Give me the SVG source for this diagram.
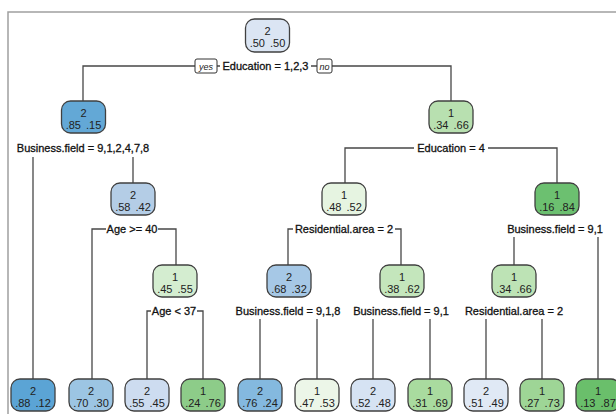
<svg xmlns="http://www.w3.org/2000/svg" width="616" height="414" viewBox="0 0 616 414">
<style>
.frame{fill:none;stroke:#a0a0a0;stroke-width:1.5}
.edge{fill:none;stroke:#474747;stroke-width:1.3}
.box{stroke:#404040;stroke-width:1.3}
.nt{font-family:"Liberation Sans",Arial,sans-serif;font-size:11px;fill:#222;text-anchor:middle;word-spacing:2px}
.lab{font-family:"Liberation Sans",Arial,sans-serif;font-size:11px;fill:#111;stroke:#111;stroke-width:0.3;text-anchor:middle}
.bg{fill:#fff}
.yn{fill:#fff;stroke:#333;stroke-width:1}
.ynt{font-family:"Liberation Sans",Arial,sans-serif;font-size:9px;font-style:italic;fill:#222;text-anchor:middle}
</style>
<rect width="616" height="414" fill="#fff"/>
<path class="frame" d="M8,414 V12 H616"/>
<g id="connectors">
<path class="edge" d="M83,101 V66 H451 V101"/>
<path class="edge" d="M345,183 V148 H557 V183"/>
<path class="edge" d="M33,157 V379"/>
<path class="edge" d="M133,157 V183"/>
<path class="edge" d="M176,265 V229 H92 V379"/>
<path class="edge" d="M288,265 V229 H401 V265"/>
<path class="edge" d="M514,237 V265"/>
<path class="edge" d="M598,237 V379"/>
<path class="edge" d="M147,379 V311 H203 V379"/>
<path class="edge" d="M260,319 V379"/>
<path class="edge" d="M317,319 V379"/>
<path class="edge" d="M373,319 V379"/>
<path class="edge" d="M430,319 V379"/>
<path class="edge" d="M486,319 V379"/>
<path class="edge" d="M542,319 V379"/>
</g>
<g id="labels">
<rect class="bg" x="220" y="59" width="91" height="14"/>
<text class="lab" x="265.5" y="70">Education = 1,2,3</text>
<rect class="yn" x="195" y="59" width="22" height="14" rx="2"/>
<text class="ynt" x="206" y="69.5">yes</text>
<rect class="yn" x="317" y="59" width="15" height="14" rx="2"/>
<text class="ynt" x="324.5" y="69.5">no</text>
<rect class="bg" x="414" y="141" width="74" height="14"/>
<text class="lab" x="451" y="152">Education = 4</text>
<text class="lab" x="83" y="152">Business.field = 9,1,2,4,7,8</text>
<rect class="bg" x="106" y="222" width="52" height="14"/>
<text class="lab" x="132" y="233">Age &gt;= 40</text>
<rect class="bg" x="293" y="222" width="102" height="14"/>
<text class="lab" x="344" y="233">Residential.area = 2</text>
<text class="lab" x="555" y="233">Business.field = 9,1</text>
<rect class="bg" x="151" y="304" width="46" height="14"/>
<text class="lab" x="174" y="315">Age &lt; 37</text>
<text class="lab" x="288" y="315">Business.field = 9,1,8</text>
<text class="lab" x="401" y="315">Business.field = 9,1</text>
<text class="lab" x="514" y="315">Residential.area = 2</text>
</g>
<g id="n1"><rect class="box" x="245.5" y="19" width="44" height="33" rx="9" fill="#dbe5f3"/><text class="nt" x="267.5" y="35">2</text><text class="nt" x="267.5" y="47">.50 .50</text></g>
<g id="n2"><rect class="box" x="61.5" y="101" width="44" height="32" rx="9" fill="#63a8d6"/><text class="nt" x="83.5" y="117">2</text><text class="nt" x="83.5" y="129">.85 .15</text></g>
<g id="n3"><rect class="box" x="429" y="101" width="44" height="32" rx="9" fill="#b8e0b0"/><text class="nt" x="451" y="117">1</text><text class="nt" x="451" y="129">.34 .66</text></g>
<g id="n4"><rect class="box" x="111" y="183" width="44" height="32" rx="9" fill="#b4cde6"/><text class="nt" x="133" y="199">2</text><text class="nt" x="133" y="211">.58 .42</text></g>
<g id="n6"><rect class="box" x="322" y="183" width="44" height="32" rx="9" fill="#e6f4e1"/><text class="nt" x="344" y="199">1</text><text class="nt" x="344" y="211">.48 .52</text></g>
<g id="n7"><rect class="box" x="535" y="183" width="44" height="32" rx="9" fill="#6cc070"/><text class="nt" x="557" y="199">1</text><text class="nt" x="557" y="211">.16 .84</text></g>
<g id="n9"><rect class="box" x="153" y="265" width="44" height="32" rx="9" fill="#d4edd0"/><text class="nt" x="175" y="281">1</text><text class="nt" x="175" y="293">.45 .55</text></g>
<g id="n12"><rect class="box" x="267" y="265" width="44" height="32" rx="9" fill="#a6c8e6"/><text class="nt" x="289" y="281">2</text><text class="nt" x="289" y="293">.68 .32</text></g>
<g id="n13"><rect class="box" x="380" y="265" width="44" height="32" rx="9" fill="#c4e6bc"/><text class="nt" x="402" y="281">1</text><text class="nt" x="402" y="293">.38 .62</text></g>
<g id="n14"><rect class="box" x="492" y="265" width="44" height="32" rx="9" fill="#bde3b5"/><text class="nt" x="514" y="281">1</text><text class="nt" x="514" y="293">.34 .66</text></g>
<g id="l1"><rect class="box" x="11" y="379" width="44" height="32" rx="9" fill="#5ba4d5"/><text class="nt" x="33" y="395">2</text><text class="nt" x="33" y="407">.88 .12</text></g>
<g id="l2"><rect class="box" x="69" y="379" width="44" height="32" rx="9" fill="#9cc5e3"/><text class="nt" x="91" y="395">2</text><text class="nt" x="91" y="407">.70 .30</text></g>
<g id="l3"><rect class="box" x="125" y="379" width="44" height="32" rx="9" fill="#cddcf0"/><text class="nt" x="147" y="395">2</text><text class="nt" x="147" y="407">.55 .45</text></g>
<g id="l4"><rect class="box" x="181" y="379" width="44" height="32" rx="9" fill="#8dcc89"/><text class="nt" x="203" y="395">1</text><text class="nt" x="203" y="407">.24 .76</text></g>
<g id="l5"><rect class="box" x="238" y="379" width="44" height="32" rx="9" fill="#84b9df"/><text class="nt" x="260" y="395">2</text><text class="nt" x="260" y="407">.76 .24</text></g>
<g id="l6"><rect class="box" x="295" y="379" width="44" height="32" rx="9" fill="#ecf6e8"/><text class="nt" x="317" y="395">1</text><text class="nt" x="317" y="407">.47 .53</text></g>
<g id="l7"><rect class="box" x="351" y="379" width="44" height="32" rx="9" fill="#d6e3f3"/><text class="nt" x="373" y="395">2</text><text class="nt" x="373" y="407">.52 .48</text></g>
<g id="l8"><rect class="box" x="408" y="379" width="44" height="32" rx="9" fill="#a9db9f"/><text class="nt" x="430" y="395">1</text><text class="nt" x="430" y="407">.31 .69</text></g>
<g id="l9"><rect class="box" x="464" y="379" width="44" height="32" rx="9" fill="#e0e9f5"/><text class="nt" x="486" y="395">2</text><text class="nt" x="486" y="407">.51 .49</text></g>
<g id="l10"><rect class="box" x="520" y="379" width="44" height="32" rx="9" fill="#9ed596"/><text class="nt" x="542" y="395">1</text><text class="nt" x="542" y="407">.27 .73</text></g>
<g id="l11"><rect class="box" x="576" y="379" width="44" height="32" rx="9" fill="#6abf6b"/><text class="nt" x="598" y="395">1</text><text class="nt" x="598" y="407">.13 .87</text></g>
</svg>
